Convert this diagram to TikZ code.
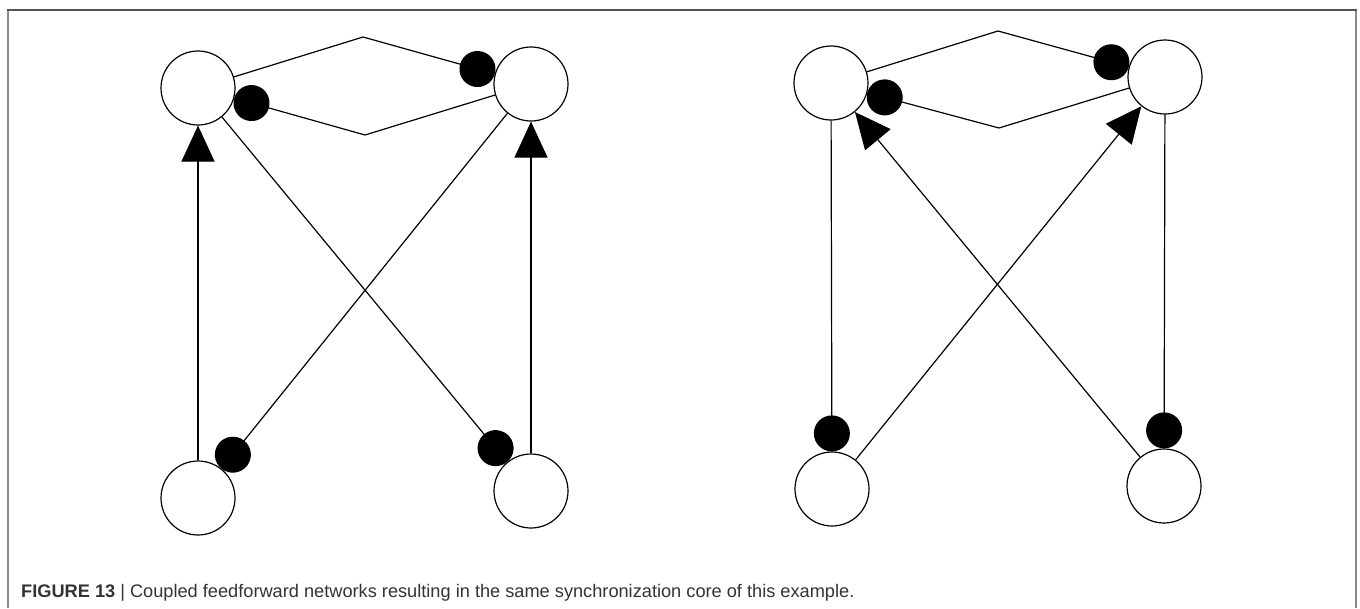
\documentclass[tikz,border=0pt]{standalone}
\usepackage{fontspec}
\setmainfont{Liberation Sans}
\usepackage{xcolor}
\usepackage{tikz}
\usetikzlibrary{arrows.meta}
\definecolor{capgray}{HTML}{333333}
\definecolor{sidegray}{HTML}{8A8A8A}
\definecolor{topgray}{HTML}{555555}
\tikzstyle{cell}  = [circle, draw=black, line width=1.2pt, minimum size=74pt,
                     inner sep=0pt, fill=white]
\tikzstyle{link}  = [line width=1.2pt, black]
\tikzstyle{excit} = [link, -{Triangle[length=36pt, width=33pt]}]
\tikzstyle{inhib} = [link, -{Circle[length=36pt]}]

\begin{document}
\begin{tikzpicture}[x=1pt, y=-1pt]
  \useasboundingbox (0,0) rectangle (1360,608);

  % frame
  \draw[sidegray, line width=2pt] (7.5,608) -- (7.5,9.5);
  \draw[sidegray, line width=2pt] (1355.5,608) -- (1355.5,9.5);
  \draw[topgray, line width=2pt] (6.5,9.5) -- (1356.5,9.5);

  % left network
  \node[cell] (tl1) at (198,88)  {};
  \node[cell] (tr1) at (531,84)  {};
  \node[cell] (bl1) at (198,498) {};
  \node[cell] (br1) at (531,491) {};
  \coordinate (top1) at (363,37);
  \coordinate (bot1) at (365,135);

  \draw[inhib] (tl1) -- (top1) -- (tr1);
  \draw[inhib] (tr1) -- (bot1) -- (tl1);
  \draw[excit] (bl1) -- (tl1);
  \draw[excit] (br1) -- (tr1);
  \draw[inhib] (tl1) -- (br1);
  \draw[inhib] (tr1) -- (bl1);

  % right network
  \node[cell] (tl2) at (831,83)   {};
  \node[cell] (tr2) at (1165,77)  {};
  \node[cell] (bl2) at (832,489)  {};
  \node[cell] (br2) at (1164,486) {};
  \coordinate (top2) at (998,31);
  \coordinate (bot2) at (999,128);

  \draw[inhib] (tl2) -- (top2) -- (tr2);
  \draw[inhib] (tr2) -- (bot2) -- (tl2);
  \draw[inhib] (tl2) -- (bl2);
  \draw[inhib] (tr2) -- (br2);
  \draw[excit] (bl2) -- (tr2);
  \draw[excit] (br2) -- (tl2);

  % caption
  \node[anchor=base west, inner sep=0pt, text=capgray,
        font=\fontsize{18.2}{20}\selectfont] (cap) at (21,597)
    {\textbf{FIGURE 13} | Coupled feedforward networks resulting in the same synchronization core of this example.};
\end{tikzpicture}
\end{document}
